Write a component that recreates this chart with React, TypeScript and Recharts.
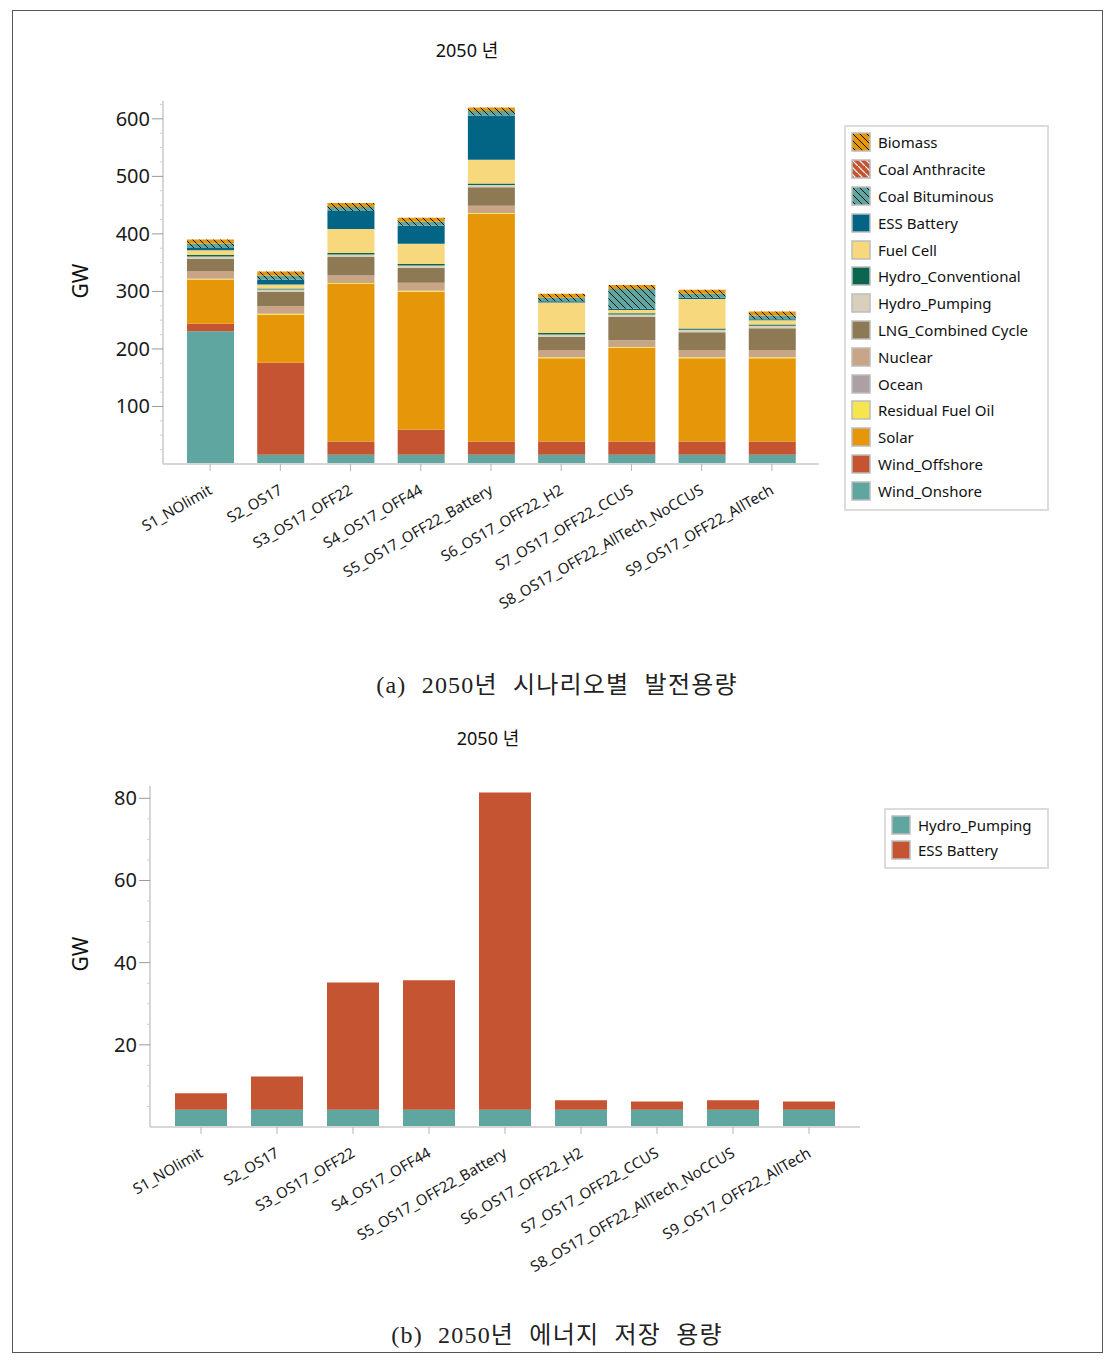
import { BarChart, Bar, XAxis, YAxis } from "recharts"

const scenarios = [
  "S1_NOlimit",
  "S2_OS17",
  "S3_OS17_OFF22",
  "S4_OS17_OFF44",
  "S5_OS17_OFF22_Battery",
  "S6_OS17_OFF22_H2",
  "S7_OS17_OFF22_CCUS",
  "S8_OS17_OFF22_AllTech_NoCCUS",
  "S9_OS17_OFF22_AllTech",
]

// GW per scenario
const biomass = [7, 7, 7, 7, 6.5, 7, 7, 7, 7]
const coalAnthracite = [0, 0, 0, 0, 0, 0, 0, 0, 0]
const coalBituminous = [8, 7.5, 7, 7, 7.5, 6, 34.5, 7, 6.5]
const essBattery = [4.0, 8.1, 31, 31.5, 77.2, 2.3, 2.0, 2.3, 2.0]
const fuelCell = [8, 7, 42, 35, 41, 53, 5.5, 51, 7]
const hydroConventional = [2.5, 2, 2.5, 2.5, 2.5, 2.5, 2.5, 2.5, 2.5]
const hydroPumping = [4.2, 4.2, 4.2, 4.2, 4.2, 4.2, 4.2, 4.2, 4.2]
const lngCombined = [21, 25, 32.5, 26, 32, 23, 40.5, 31, 38]
const nuclear = [13.5, 13, 13, 14, 12.5, 12.5, 11.5, 12.5, 12.5]
const ocean = [0, 0, 0, 0, 0, 0, 0, 0, 0]
const residualFuelOil = [1.5, 1.5, 1.5, 1.5, 1.5, 1.5, 1.5, 1.5, 1.5]
const solar = [77, 83.5, 274, 240, 396, 145, 163, 145, 145]
const windOffshore = [13, 160, 23, 43.5, 23, 23, 23, 23, 23]
const windOnshore = [230.7, 16, 16, 16, 16, 16, 16, 16, 16]

const capacityMajorTicks = [100, 200, 300, 400, 500, 600]
const storageMajorTicks = [20, 40, 60, 80]

const FONT = "'Segoe UI', 'Noto Sans', 'Noto Sans CJK KR', sans-serif"
const SERIF = "'Liberation Serif', 'DejaVu Serif', 'Noto Sans CJK KR', serif"
const AXIS_GRAY = "#d6d6d6"

// legend order (alphabetical); bars are stacked in reverse
const capacitySeries = [
  { key: "Biomass", values: biomass, fill: "url(#hatchBiomass)" },
  { key: "Coal Anthracite", values: coalAnthracite, fill: "url(#hatchAnthracite)" },
  { key: "Coal Bituminous", values: coalBituminous, fill: "url(#hatchBituminous)" },
  { key: "ESS Battery", values: essBattery, fill: "#036586" },
  { key: "Fuel Cell", values: fuelCell, fill: "#f7d87c" },
  { key: "Hydro_Conventional", values: hydroConventional, fill: "#0b6650" },
  { key: "Hydro_Pumping", values: hydroPumping, fill: "#d8cfbc" },
  { key: "LNG_Combined Cycle", values: lngCombined, fill: "#8d7a55" },
  { key: "Nuclear", values: nuclear, fill: "#c8a587" },
  { key: "Ocean", values: ocean, fill: "#ada0a4" },
  { key: "Residual Fuel Oil", values: residualFuelOil, fill: "#f6e64d" },
  { key: "Solar", values: solar, fill: "#e69609" },
  { key: "Wind_Offshore", values: windOffshore, fill: "#c45432" },
  { key: "Wind_Onshore", values: windOnshore, fill: "#5fa5a0" },
]

const storageSeries = [
  { key: "Hydro_Pumping", values: hydroPumping, fill: "#5fa5a0" },
  { key: "ESS Battery", values: essBattery, fill: "#c45432" },
]

const capacityData = scenarios.map((scenario, i) => {
  const row: Record<string, string | number> = { scenario }
  capacitySeries.forEach(s => { row[s.key] = s.values[i] })
  return row
})

const storageData = scenarios.map((scenario, i) => {
  const row: Record<string, string | number> = { scenario }
  storageSeries.forEach(s => { row[s.key] = s.values[i] })
  return row
})

function minorTicks(step: number, max: number) {
  const out: number[] = []
  for (let v = step; v <= max; v += step) out.push(v)
  return out
}

function Patterns() {
  return (
    <svg width={0} height={0} style={{ position: "absolute" }}>
      <defs>
        <pattern id="hatchBiomass" patternUnits="userSpaceOnUse" width={7} height={7}>
          <rect width={7} height={7} fill="#e69609" />
          <path d="M-1,-1 L8,8" stroke="#111" strokeWidth={1} />
        </pattern>
        <pattern id="hatchAnthracite" patternUnits="userSpaceOnUse" width={7} height={7}>
          <rect width={7} height={7} fill="#c45432" />
          <path d="M-1,-1 L8,8" stroke="#fff" strokeWidth={1.2} />
        </pattern>
        <pattern id="hatchBituminous" patternUnits="userSpaceOnUse" width={7} height={7}>
          <rect width={7} height={7} fill="#5fa5a0" />
          <path d="M-1,-1 L8,8" stroke="#111" strokeWidth={1} />
        </pattern>
      </defs>
    </svg>
  )
}

function YTick(props: any) {
  const { x, y, payload, majors } = props
  const major = majors.includes(payload.value)
  return (
    <g>
      <line x1={x - (major ? 11 : 3)} x2={x} y1={y} y2={y} stroke={major ? "#9a9a9a" : "#cfcfcf"} />
      {major && (
        <text x={x - 13} y={y} dy="0.35em" textAnchor="end" fontSize={20} fill="#1a1a1a" fontFamily={FONT}>
          {payload.value}
        </text>
      )}
    </g>
  )
}

function XTick(props: any) {
  const { x, y, payload } = props
  return (
    <g transform={`translate(${x + 3},${y + 22})`}>
      <text textAnchor="end" transform="rotate(-30)" fontSize={15} fill="#1a1a1a" fontFamily={FONT}>
        {payload.value}
      </text>
    </g>
  )
}

function LegendBox({ items, left, top, width, rowHeight }: {
  items: { key: string; fill: string }[]
  left: number
  top: number
  width: number
  rowHeight: number
}) {
  return (
    <div style={{
      position: "absolute", left, top, width, boxSizing: "border-box",
      border: "2px solid #dcdcdc", padding: "2px 0 5px 5px", background: "#fff",
    }}>
      {items.map(it => (
        <div key={it.key} style={{ display: "flex", alignItems: "center", height: rowHeight }}>
          <svg width={20} height={20} style={{ flex: "none" }}>
            <rect x={1} y={1} width={18} height={18} fill={it.fill} stroke="#bdbdbd" strokeWidth={1.5} />
          </svg>
          <span style={{ marginLeft: 7, fontSize: 15, color: "#111", whiteSpace: "nowrap" }}>{it.key}</span>
        </div>
      ))}
    </div>
  )
}

export default function App() {
  const stackedCapacity = [...capacitySeries].reverse()
  return (
    <div style={{
      position: "relative", width: 1091, height: 1343, boxSizing: "border-box",
      border: "1px solid #555", marginLeft: 4, marginTop: 2, fontFamily: FONT, background: "#fff",
    }}>
      <Patterns />

      {/* (a) capacity */}
      <div style={{ position: "absolute", left: 0, top: 25, width: 908, textAlign: "center", fontSize: 18, color: "#111" }}>
        2050 년
      </div>
      <div style={{
        position: "absolute", left: 47, top: 256, transform: "rotate(-90deg)", transformOrigin: "center",
        fontSize: 21, color: "#111", width: 40, textAlign: "center",
      }}>GW</div>
      <div style={{ position: "absolute", left: 0, top: 0 }}>
        <BarChart width={1088} height={640} data={capacityData} margin={{ top: 90, right: 282, left: 90, bottom: 0 }}>
          <XAxis
            dataKey="scenario"
            interval={0}
            height={187}
            padding={{ left: 12, right: 12 }}
            tickSize={7}
            tickMargin={0}
            tickLine={{ stroke: "#b5b5b5" }}
            axisLine={{ stroke: AXIS_GRAY, strokeWidth: 2 }}
            tick={<XTick />}
          />
          <XAxis xAxisId="top" orientation="top" height={0} tick={false} tickLine={false} axisLine={{ stroke: AXIS_GRAY, strokeWidth: 2 }} />
          <YAxis
            width={60}
            domain={[0, 631]}
            allowDataOverflow
            ticks={minorTicks(25, 631)}
            interval={0}
            tickSize={0}
            tickMargin={0}
            axisLine={{ stroke: AXIS_GRAY, strokeWidth: 2 }}
            tick={(p: any) => <YTick {...p} majors={capacityMajorTicks} />}
          />
          <YAxis yAxisId="right" orientation="right" width={0} tick={false} tickLine={false} axisLine={{ stroke: AXIS_GRAY, strokeWidth: 2 }} />
          {stackedCapacity.map(s => (
            <Bar key={s.key} dataKey={s.key} stackId="cap" fill={s.fill} barSize={47} isAnimationActive={false} />
          ))}
        </BarChart>
      </div>
      <LegendBox items={capacitySeries} left={831} top={114} width={205} rowHeight={26.8} />
      <div style={{
        position: "absolute", left: 0, top: 654, width: 1088, textAlign: "center",
        fontFamily: SERIF, fontSize: 24, color: "#222", wordSpacing: 8, letterSpacing: 1.2,
      }}>
        (a) 2050년 시나리오별 발전용량
      </div>

      {/* (b) storage */}
      <div style={{ position: "absolute", left: 0, top: 713, width: 950, textAlign: "center", fontSize: 18, color: "#111" }}>
        2050 년
      </div>
      <div style={{
        position: "absolute", left: 47, top: 929, transform: "rotate(-90deg)", transformOrigin: "center",
        fontSize: 21, color: "#111", width: 40, textAlign: "center",
      }}>GW</div>
      <div style={{ position: "absolute", left: 0, top: 690 }}>
        <BarChart width={1088} height={600} data={storageData} margin={{ top: 85, right: 241, left: 77, bottom: 0 }}>
          <XAxis
            dataKey="scenario"
            interval={0}
            height={174}
            padding={{ left: 13, right: 13 }}
            tickSize={7}
            tickMargin={0}
            tickLine={{ stroke: "#b5b5b5" }}
            axisLine={{ stroke: AXIS_GRAY, strokeWidth: 2 }}
            tick={<XTick />}
          />
          <XAxis xAxisId="top" orientation="top" height={0} tick={false} tickLine={false} axisLine={{ stroke: AXIS_GRAY, strokeWidth: 2 }} />
          <YAxis
            width={60}
            domain={[0, 83]}
            allowDataOverflow
            ticks={minorTicks(5, 83)}
            interval={0}
            tickSize={0}
            tickMargin={0}
            axisLine={{ stroke: AXIS_GRAY, strokeWidth: 2 }}
            tick={(p: any) => <YTick {...p} majors={storageMajorTicks} />}
          />
          <YAxis yAxisId="right" orientation="right" width={0} tick={false} tickLine={false} axisLine={{ stroke: AXIS_GRAY, strokeWidth: 2 }} />
          {storageSeries.map(s => (
            <Bar key={s.key} dataKey={s.key} stackId="sto" fill={s.fill} barSize={52} isAnimationActive={false} />
          ))}
        </BarChart>
      </div>
      <LegendBox items={storageSeries} left={871} top={797} width={165} rowHeight={25} />
      <div style={{
        position: "absolute", left: 0, top: 1304, width: 1088, textAlign: "center",
        fontFamily: SERIF, fontSize: 24, color: "#222", wordSpacing: 8, letterSpacing: 1.2,
      }}>
        (b) 2050년 에너지 저장 용량
      </div>
    </div>
  )
}
